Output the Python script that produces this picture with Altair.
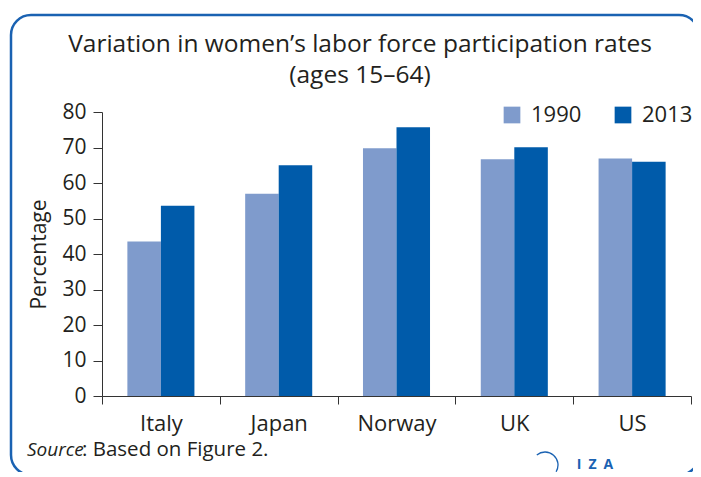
import altair as alt
import pandas as pd

countries = ["Italy", "Japan", "Norway", "UK", "US"]
years = ["1990", "2013"]
values_1990 = [43.5, 57.0, 69.8, 66.7, 66.9]
values_2013 = [53.6, 65.0, 75.7, 70.1, 66.0]
title_lines = ["Variation in women\u2019s labor force participation rates", "(ages 15\u201364)"]

rows = []
for c, v in zip(countries, values_1990):
    rows.append({"country": c, "year": "1990", "value": v})
for c, v in zip(countries, values_2013):
    rows.append({"country": c, "year": "2013", "value": v})
df = pd.DataFrame(rows)

FONT = "Open Sans"
TXT = "#231f20"
AX = "#333333"
BLUE = "#1a62b2"

bars = alt.Chart(df).mark_bar().encode(
    x=alt.X("country:N", sort=countries,
            scale=alt.Scale(paddingInner=0, paddingOuter=0),
            axis=alt.Axis(title=None, labelAngle=0, tickBand="extent",
                          labelFontSize=22, labelFont=FONT, labelColor=TXT,
                          tickSize=8, labelPadding=9, domainColor=AX, tickColor=AX)),
    xOffset=alt.XOffset("year:N", sort=years,
                        scale=alt.Scale(paddingInner=0, paddingOuter=0.757)),
    y=alt.Y("value:Q", scale=alt.Scale(domain=[0, 80], nice=False),
            axis=alt.Axis(title="Percentage", values=list(range(0, 81, 10)),
                          grid=False, labelFontSize=21, labelFont=FONT, labelColor=TXT,
                          titleFontSize=21, titleFont=FONT, titleColor=TXT,
                          titleFontWeight="normal", titlePadding=12,
                          tickSize=9, labelPadding=7, domainColor=AX, tickColor=AX)),
    color=alt.Color("year:N", sort=years,
                    scale=alt.Scale(domain=years, range=["#7f9bcc", "#005baa"]),
                    legend=alt.Legend(title=None, orient="none", direction="horizontal",
                                      legendX=399, legendY=-8, symbolType="square",
                                      symbolSize=279, symbolStrokeWidth=0,
                                      labelFontSize=22, labelFont=FONT, labelColor=TXT,
                                      labelOffset=8, columnPadding=30, padding=0)),
)

deco = pd.DataFrame({"a": [0]})

frame = alt.Chart(deco).mark_rect(
    cornerRadius=20, fillOpacity=0, stroke=BLUE, strokeWidth=2.5
).encode(x=alt.value(-91), x2=alt.value(597), y=alt.value(-97), y2=alt.value(363))

t1 = alt.Chart(deco).mark_text(
    text=title_lines[0], font=FONT, fontSize=24.5, color=TXT,
    align="center", baseline="alphabetic"
).encode(x=alt.value(258), y=alt.value(-60))

t2 = alt.Chart(deco).mark_text(
    text=title_lines[1], font=FONT, fontSize=24.5, color=TXT,
    align="center", baseline="alphabetic"
).encode(x=alt.value(258), y=alt.value(-29))

src1 = alt.Chart(deco).mark_text(
    text="Source", font=FONT, fontSize=19, fontStyle="italic", color=TXT,
    align="left", baseline="alphabetic"
).encode(x=alt.value(-75), y=alt.value(344))

src2 = alt.Chart(deco).mark_text(
    text=": Based on Figure 2.", font=FONT, fontSize=20.5, color=TXT,
    align="left", baseline="alphabetic"
).encode(x=alt.value(-20), y=alt.value(344))

iza = alt.Chart(deco).mark_text(
    text="I\u2002Z\u2002A", font=FONT, fontSize=14, fontWeight="bold", color=BLUE,
    align="center", baseline="middle"
).encode(x=alt.value(493), y=alt.value(353))

logo = alt.Chart(deco).mark_arc(
    innerRadius=13, outerRadius=13, fillOpacity=0, stroke=BLUE, strokeWidth=1.3
).encode(x=alt.value(443), y=alt.value(353), theta=alt.value(5.6), theta2=alt.value(8.4))

chart = alt.layer(frame, bars, t1, t2, src1, src2, iza, logo).properties(
    width=589, height=284,
    autosize=alt.AutoSizeParams(type="none"),
    padding={"left": 94, "top": 104, "right": 2, "bottom": 76},
).configure_view(stroke=None)

chart.save("out.html", embed_options={"renderer": "svg", "actions": False})
